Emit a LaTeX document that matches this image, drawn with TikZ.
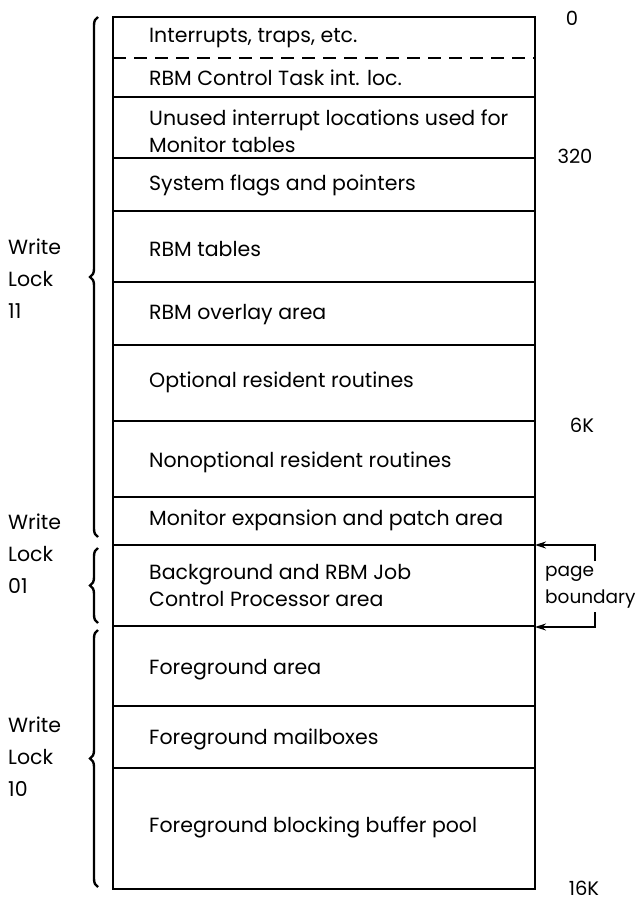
\documentclass[tikz,border=0pt]{standalone}
\usepackage{fontspec}
\setmainfont{Poppins}
\usetikzlibrary{decorations.pathreplacing,arrows.meta}

\begin{document}
\begin{tikzpicture}[x=1pt,y=-1pt,
        area/.style={anchor=west, align=left, inner sep=0pt, font=\fontsize{20.5}{27}\selectfont},
        addr/.style={anchor=base, inner sep=0pt, font=\fontsize{19.5}{20}\selectfont},
        lock/.style={anchor=west, align=left, inner sep=0pt, font=\fontsize{20.5}{32}\selectfont},
        lockbrace/.style={line width=2.4pt, decorate, decoration={brace, amplitude=8pt}},
        pointer/.style={line width=1.2pt, -{Stealth[length=11pt,width=7pt]}}]
    \useasboundingbox (0,0) rectangle (640,901);
        % The memory map box and its dividers.
        \draw[line width=1.8pt] (113,17) rectangle (535,889);
        \draw[line width=1.2pt, dash pattern=on 13pt off 8pt] (113,58) -- (535,58);
        \foreach \y in {97,158,211,282,345,421,497,545,626,706,768}
            \draw[line width=1.8pt] (113,\y) -- (535,\y);
        % Below nodes are the areas.
            \node[area] (intr) at (149,38) {Interrupts, traps, etc.};
            \node[area] (ctl) at (149,78) {RBM Control Task int. loc.};
            \node[area] (unused) at (149,131) {Unused interrupt locations used for\\Monitor tables};
            \node[area] (flags) at (149,185) {System flags and pointers};
            \node[area] (tables) at (149,249) {RBM tables};
            \node[area] (ovl) at (149,315) {RBM overlay area};
            \node[area] (opt) at (149,382) {Optional resident routines};
            \node[area] (nonopt) at (149,462) {Nonoptional resident routines};
            \node[area] (patch) at (149,520) {Monitor expansion and patch area};
            \node[area] (bkg) at (149,586) {Background and RBM Job\\Control Processor area};
            \node[area] (fgd) at (149,670) {Foreground area};
            \node[area] (mail) at (149,739) {Foreground mailboxes};
            \node[area] (pool) at (149,827) {Foreground blocking buffer pool};
        % Addresses on the right.
            \node[addr] (a0) at (572,26) {0};
            \node[addr] (a320) at (575,164) {320};
            \node[addr] (a6k) at (582,432) {6K};
            \node[addr] (a16k) at (584,895) {16K};
        % Write locks on the left.
            \draw[lockbrace] (98,537) -- (98,17);
            \draw[lockbrace] (98,623) -- (98,548);
            \draw[lockbrace] (98,887) -- (98,630);
            \node[lock] (wl11) at (8,279) {Write\\Lock\\11};
            \node[lock] (wl01) at (8,554) {Write\\Lock\\01};
            \node[lock] (wl10) at (8,757) {Write\\Lock\\10};
        % This draws the page boundary pointers.
            \node[area, font=\fontsize{18.5}{27}\selectfont] (pb) at (545,587) {page\\boundary};
            \coordinate (pbtop) at (595,561);
            \coordinate (pbbot) at (595,612);
            \coordinate (bkgtop) at (535,545);
            \coordinate (bkgbot) at (535,627);
            \draw[pointer] (pbtop) |- (bkgtop);
            \draw[pointer] (pbbot) |- (bkgbot);
\end{tikzpicture}
\end{document}
